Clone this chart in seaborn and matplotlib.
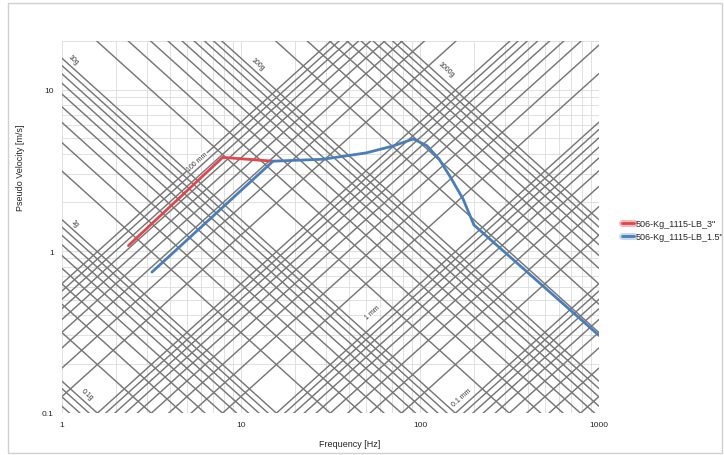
import numpy as np
import pandas as pd
import matplotlib
matplotlib.use("Agg")
import matplotlib.pyplot as plt
import matplotlib.patheffects as pe
from matplotlib.patches import Rectangle
from matplotlib.ticker import LogLocator, NullFormatter
import seaborn as sns

# constant-acceleration reference lines [g]
accel_g = [0.06, 0.07, 0.08, 0.09,
           0.1, 0.2, 0.3, 0.4, 0.5, 0.6, 0.7, 0.8, 0.9,
           1, 2, 3, 4, 5, 6, 7, 8, 9,
           10, 20, 30, 40, 50, 60, 70, 80, 90,
           100, 200, 300, 400, 500, 600, 700, 800, 900,
           1000]
# constant-displacement reference lines [mm]
disp_mm = [0.01, 0.02, 0.03, 0.04, 0.05, 0.06, 0.07, 0.08, 0.09,
           0.1, 0.2, 0.3, 0.4, 0.5, 0.6, 0.7, 0.8, 0.9,
           1, 2, 3, 4, 5, 6, 7, 8, 9,
           10, 20, 30, 40, 50, 60, 70, 80, 90,
           100]

accel_labels = ['0.1g', '1g', '10g', '100g', '1000g']
accel_label_f = [1.38, 1.18, 1.15, 12.3, 140]
accel_label_v = [0.13, 1.5, 15.4, 14.4, 13.4]

disp_labels = ['100 mm', '1 mm', '0.1 mm']
disp_label_f = [5.7, 54, 172]
disp_label_v = [3.57, 0.42, 0.125]

# shock response spectra
freq_3in = [2.35, 7.9, 15.1]
vel_3in = [1.08, 3.8, 3.6]
freq_15in = [3.18, 15.1, 28.7, 50, 70.7, 91.6, 109, 128, 147, 174, 200, 1000]
vel_15in = [0.74, 3.6, 3.7, 4.05, 4.47, 4.94, 4.5, 3.7, 2.9, 2.1, 1.45, 0.3]

series_names = ['506-Kg_1115-LB_3"', '506-Kg_1115-LB_1.5"']

G = 9.81
f_span = np.array([1.0, 1000.0])


def plot(df):
    sns.set_theme(style="white")
    plt.rcParams['font.family'] = ['Liberation Sans', 'DejaVu Sans']
    fig = plt.figure(figsize=(7.24, 4.56), dpi=100)
    ax = fig.add_axes([62 / 724, 1 - 413.5 / 456, 537 / 724, 371.6 / 456])
    ax.set_xscale('log')
    ax.set_yscale('log')
    ax.set_xlim(1, 1000)
    ax.set_ylim(0.1, 20)

    ax.grid(True, which='both', color='#dcdcdc', linewidth=0.6)
    ax.set_axisbelow(True)
    for s in ax.spines.values():
        s.set_visible(False)

    for a in accel_g:
        ax.plot(f_span, a * G / (2 * np.pi * f_span), color='#777777', lw=1.05, zorder=1)
    for d in disp_mm:
        ax.plot(f_span, 2 * np.pi * f_span * d / 1000, color='#777777', lw=1.05, zorder=1)

    for t, f, v in zip(accel_labels, accel_label_f, accel_label_v):
        ax.text(f, v, t, fontsize=5, rotation=-42, ha='center', va='center',
                color='#333333', zorder=3,
                bbox=dict(fc='white', ec='none', pad=0.3))
    for t, f, v in zip(disp_labels, disp_label_f, disp_label_v):
        ax.text(f, v, t, fontsize=5, rotation=42, ha='center', va='center',
                color='#333333', zorder=3,
                bbox=dict(fc='white', ec='none', pad=0.3))

    palette = {series_names[0]: '#e0474c', series_names[1]: '#4a7ebb'}
    sns.lineplot(data=df, x='freq', y='vel', hue='series', palette=palette,
                 sort=False, estimator=None, linewidth=2.0, ax=ax, zorder=4)
    halos = ['#f5b8ba', '#c6d9ef']
    for line, h in zip(ax.get_lines()[-2:], halos):
        line.set_path_effects([pe.Stroke(linewidth=5, foreground=h), pe.Normal()])

    handles, labels = ax.get_legend_handles_labels()
    ax.legend(handles, labels, loc='center left', bbox_to_anchor=(614 / 724, 1 - 231 / 456),
              bbox_transform=fig.transFigure, frameon=False, fontsize=6.5,
              handlelength=1.3, handletextpad=0.2, labelspacing=0.5)

    ax.set_xticks([1, 10, 100, 1000])
    ax.set_xticklabels(['1', '10', '100', '1000'])
    ax.set_yticks([0.1, 1, 10])
    ax.set_yticklabels(['0.1', '1', '10'])
    # minor grid only, no labels
    ax.xaxis.set_minor_locator(LogLocator(subs=np.arange(2, 10)))
    ax.yaxis.set_minor_locator(LogLocator(subs=np.arange(2, 10)))
    ax.xaxis.set_minor_formatter(NullFormatter())
    ax.yaxis.set_minor_formatter(NullFormatter())
    ax.tick_params(axis='both', which='both', length=0, labelsize=6, pad=6)

    ax.set_xlabel('Frequency [Hz]', fontsize=6.5)
    ax.set_ylabel('Pseudo Velocity [m/s]', fontsize=6.5)
    ax.xaxis.set_label_coords(0.536, -0.071)
    ax.yaxis.set_label_coords(-0.069, 0.66)

    fig.patches.append(Rectangle((8 / 724, 2 / 456), 714 / 724, 450 / 456,
                                 transform=fig.transFigure, fill=False,
                                 edgecolor='#d0d0d0', lw=1))
    fig.savefig('out.png', dpi=100)


if __name__ == '__main__':
    df = pd.concat([
        pd.DataFrame({'freq': freq_3in, 'vel': vel_3in, 'series': series_names[0]}),
        pd.DataFrame({'freq': freq_15in, 'vel': vel_15in, 'series': series_names[1]}),
    ])
    plot(df)
